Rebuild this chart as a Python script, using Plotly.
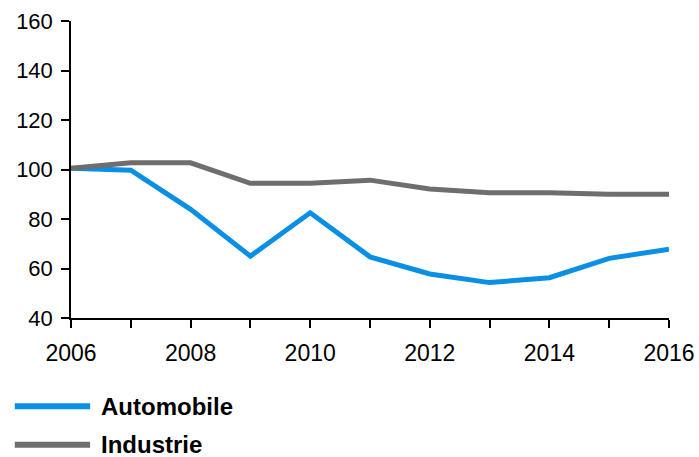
import plotly.graph_objects as go

# Index values (2006 = 100)
years = [2006, 2007, 2008, 2009, 2010, 2011, 2012, 2013, 2014, 2015, 2016]
automobile = [100.5, 99.7, 83.9, 65.0, 82.5, 64.7, 57.8, 54.3, 56.3, 64.1, 67.8]
industrie = [100.5, 102.7, 102.7, 94.4, 94.4, 95.7, 92.1, 90.6, 90.6, 90.0, 90.0]

series_names = ["Automobile", "Industrie"]
series_colors = ["#0A8FE4", "#6F6E6D"]
y_ticks = [40, 60, 80, 100, 120, 140, 160]

fig = go.Figure()
for name, vals, col in zip(series_names, [automobile, industrie], series_colors):
    fig.add_trace(go.Scatter(
        x=years, y=vals, mode="lines", name=name,
        line=dict(color=col, width=5), showlegend=False,
    ))

# Hand-placed legend below the plot
legend_y = [-0.297, -0.427]
for name, col, ly in zip(series_names, series_colors, legend_y):
    fig.add_shape(type="line", xref="paper", yref="paper",
                  x0=-0.094, x1=0.032, y0=ly, y1=ly,
                  line=dict(color=col, width=6))
    fig.add_annotation(xref="paper", yref="paper", x=0.047, y=ly,
                       text="<b>%s</b>" % name, showarrow=False,
                       xanchor="left", yanchor="middle",
                       font=dict(size=24, color="black"))

fig.update_layout(
    width=699, height=457,
    margin=dict(l=71, r=30, t=21, b=139),
    plot_bgcolor="white", paper_bgcolor="white",
    font=dict(family="Liberation Sans, Arial, sans-serif", size=22, color="black"),
    xaxis=dict(
        range=[2006, 2016], showgrid=False, zeroline=False, automargin=False,
        showline=True, linecolor="black", linewidth=1.5,
        ticks="outside", ticklen=8, tickwidth=1.5, tickcolor="black",
        tickvals=years,
        ticktext=[str(y) if y % 2 == 0 else "" for y in years],
        tickfont=dict(size=23), ticklabelstandoff=6,
    ),
    yaxis=dict(
        range=[40, 160], showgrid=False, zeroline=False, automargin=False,
        showline=True, linecolor="black", linewidth=1.5,
        ticks="outside", ticklen=8, tickwidth=1.5, tickcolor="black",
        tickvals=y_ticks, tickfont=dict(size=22), ticklabelstandoff=4,
    ),
)

fig.write_html("out.html")
